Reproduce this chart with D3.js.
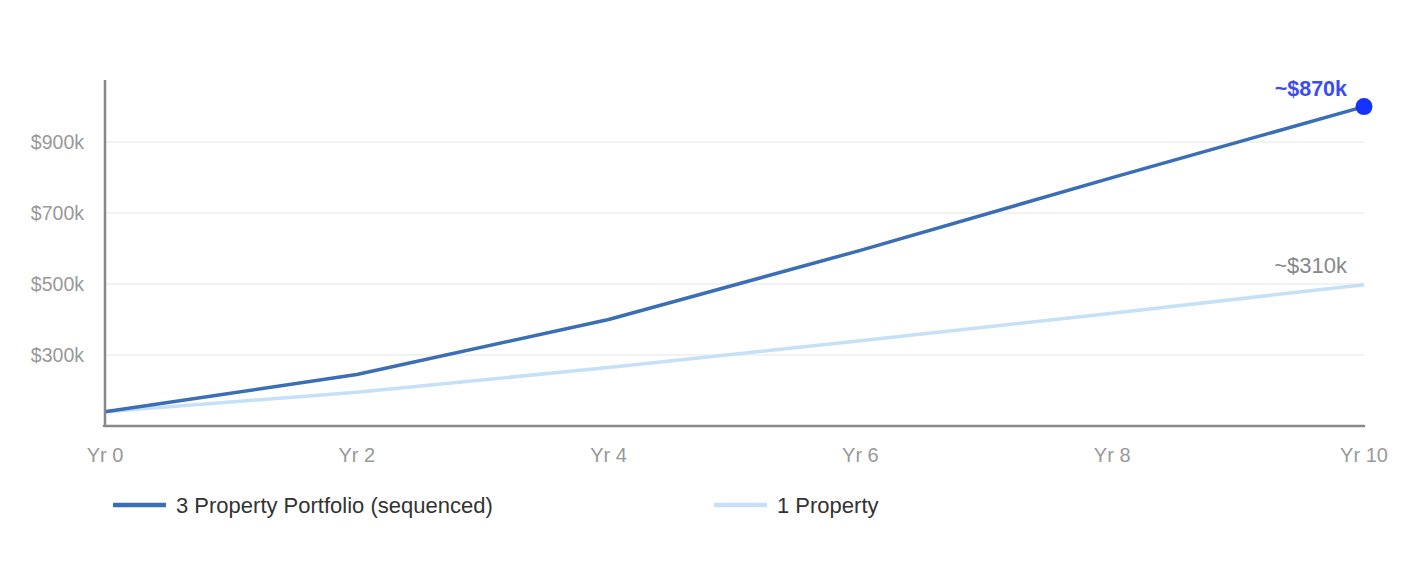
<!DOCTYPE html>
<html>
<head>
<meta charset="utf-8">
<script src="https://cdn.jsdelivr.net/npm/d3@7/dist/d3.min.js"></script>
<style>
  html, body { margin: 0; padding: 0; background: #fff; }
  svg { display: block; font-family: "Liberation Sans", Arial, sans-serif; }
</style>
</head>
<body>
<svg id="chart" width="1409" height="563"></svg>
<script>
const years = [0, 2, 4, 6, 8, 10];
const xTickLabels = ["Yr 0", "Yr 2", "Yr 4", "Yr 6", "Yr 8", "Yr 10"];
const portfolioValues = [140, 245, 400, 595, 800, 1000]; // $k
const singleValues = [140, 195, 265, 340, 418, 498];      // $k
const yTicks = [300, 500, 700, 900];
const yTickLabels = ["$300k", "$500k", "$700k", "$900k"];
const seriesNames = ["3 Property Portfolio (sequenced)", "1 Property"];
const endLabels = ["~$870k", "~$310k"];

const svg = d3.select("#chart");
const plotLeft = 105, plotRight = 1364, plotTop = 80, plotBottom = 426;

const x = d3.scaleLinear().domain([0, 10]).range([plotLeft, plotRight]);
const y = d3.scaleLinear().domain([100, 1075]).range([plotBottom, plotTop]);

// gridlines
svg.append("g").selectAll("line").data(yTicks).join("line")
  .attr("x1", plotLeft).attr("x2", plotRight)
  .attr("y1", d => y(d)).attr("y2", d => y(d))
  .attr("stroke", "#eeeeee").attr("stroke-width", 1.5);

// y tick labels
svg.append("g").selectAll("text").data(yTicks).join("text")
  .attr("x", 84).attr("y", d => y(d)).attr("dy", "0.35em")
  .attr("text-anchor", "end").attr("font-size", 19.5).attr("fill", "#999")
  .text((d, i) => yTickLabels[i]);

// x tick labels
svg.append("g").selectAll("text").data(years).join("text")
  .attr("x", d => x(d)).attr("y", 462)
  .attr("text-anchor", "middle").attr("font-size", 20).attr("fill", "#999")
  .text((d, i) => xTickLabels[i]);

const line = d3.line().x((d, i) => x(years[i])).y(d => y(d));

svg.append("path").datum(singleValues)
  .attr("d", line).attr("fill", "none")
  .attr("stroke", "#c6e0f8").attr("stroke-width", 3.5)
  .attr("stroke-linejoin", "round");

svg.append("path").datum(portfolioValues)
  .attr("d", line).attr("fill", "none")
  .attr("stroke", "#3a6eb5").attr("stroke-width", 3.5)
  .attr("stroke-linejoin", "round");

// axes
svg.append("line").attr("x1", plotLeft).attr("x2", plotLeft).attr("y1", plotTop).attr("y2", plotBottom)
  .attr("stroke", "#888").attr("stroke-width", 2.5);
svg.append("line").attr("x1", plotLeft - 1).attr("x2", plotRight).attr("y1", plotBottom).attr("y2", plotBottom)
  .attr("stroke", "#888").attr("stroke-width", 2.5).attr("stroke-linecap", "round");

// end dot
svg.append("circle")
  .attr("cx", x(years[years.length - 1]))
  .attr("cy", y(portfolioValues[portfolioValues.length - 1]))
  .attr("r", 8.5).attr("fill", "#1533ff");

// end labels
svg.append("text").attr("x", 1347).attr("y", y(portfolioValues[5]) - 11)
  .attr("text-anchor", "end").attr("font-size", 21.5).attr("font-weight", "bold")
  .attr("fill", "#3b4cf5").text(endLabels[0]);
svg.append("text").attr("x", 1347).attr("y", y(singleValues[5]) - 12)
  .attr("text-anchor", "end").attr("font-size", 22)
  .attr("fill", "#888").text(endLabels[1]);

// legend
const legend = [
  { name: seriesNames[0], color: "#3a6eb5", x0: 113 },
  { name: seriesNames[1], color: "#c6e0f8", x0: 714 }
];
const lg = svg.append("g").selectAll("g").data(legend).join("g");
lg.append("line").attr("x1", d => d.x0).attr("x2", d => d.x0 + 53)
  .attr("y1", 505).attr("y2", 505)
  .attr("stroke", d => d.color).attr("stroke-width", 4.5);
lg.append("text").attr("x", d => d.x0 + 63).attr("y", 505).attr("dy", "0.35em")
  .attr("font-size", 22).attr("fill", "#333").text(d => d.name);
</script>
</body>
</html>
